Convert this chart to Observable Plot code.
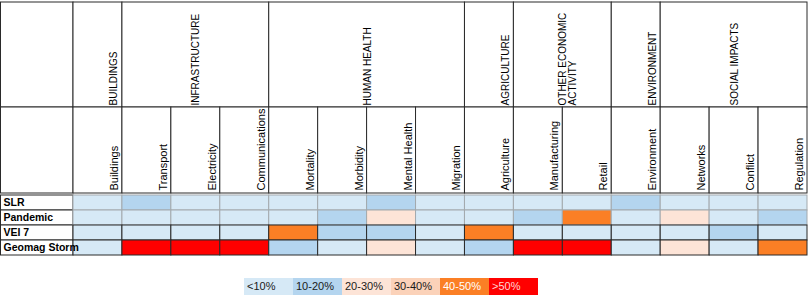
<!DOCTYPE html>
<html><head><meta charset="utf-8">
<script src="https://cdn.jsdelivr.net/npm/d3@7"></script>
<script src="https://cdn.jsdelivr.net/npm/@observablehq/plot@0.6"></script>
<style>
body{margin:0;background:#fff;font-family:"Liberation Sans",Arial,sans-serif;}
#legend{display:flex;margin-left:244px;margin-top:20px;}
#legend div{width:49px;height:17px;font-size:11px;line-height:17px;padding-left:3px;box-sizing:border-box;}
</style></head><body><div id="chart"></div><div id="legend"></div>
<script>
const groups = ["BUILDINGS","INFRASTRUCTURE","HUMAN HEALTH","AGRICULTURE","OTHER ECONOMIC\nACTIVITY","ENVIRONMENT","SOCIAL IMPACTS"];
const groupSpans = [1,3,4,1,2,1,3];
const columns = ["Buildings","Transport","Electricity","Communications","Mortality","Morbidity","Mental Health","Migration","Agriculture","Manufacturing","Retail","Environment","Networks","Conflict","Regulation"];
const scenarios = ["SLR","Pandemic","VEI 7","Geomag Storm"];
const categories = ["<10%","10-20%","20-30%","30-40%","40-50%",">50%"];
const categoryColors = ["#d6e9f6","#b4d5ef","#fde4d7","#fbd2b9","#fb7f25","#ff0000"];
const legendTextColors = ["#1a1a1a","#1a1a1a","#1a1a1a","#1a1a1a","#ffffff","#ffd6d6"];
const slr      = ["<10%","10-20%","<10%","<10%","<10%","<10%","10-20%","<10%","<10%","<10%","<10%","10-20%","<10%","<10%","<10%"];
const pandemic = ["<10%","<10%","<10%","<10%","<10%","10-20%","20-30%","<10%","<10%","10-20%","40-50%","<10%","20-30%","<10%","10-20%"];
const vei7     = ["<10%","<10%","<10%","<10%","40-50%","10-20%","10-20%","<10%","40-50%","<10%","<10%","<10%","<10%","10-20%","<10%"];
const geomag   = ["<10%",">50%",">50%",">50%","10-20%","<10%","20-30%","<10%","10-20%",">50%",">50%","<10%","20-30%","<10%","40-50%"];
const seriesValues = [slr, pandemic, vei7, geomag];

const W = 809, H = 258, mTop = 193, mLeft = 73, mRight = 2, mBottom = 2;
const frameH = H - mTop - mBottom;
const groupTop = 2, subTop = 107;

const cells = scenarios.flatMap((s, r) => seriesValues[r].map((v, i) => ({scenario: s, row: r, i, v})));
let acc = 0;
const groupData = groups.map((g, k) => { const d = {g, start: acc, end: acc + groupSpans[k]}; acc += groupSpans[k]; return d; });
const colData = columns.map((c, i) => ({c, i}));

const lineDark = "#2a2a2a";
const chart = Plot.plot({
  width: W, height: H,
  marginTop: mTop, marginLeft: mLeft, marginRight: mRight, marginBottom: mBottom,
  x: {domain: [0, columns.length], axis: null},
  y: {domain: scenarios, axis: null, padding: 0},
  color: {domain: categories, range: categoryColors},
  style: {fontFamily: "Liberation Sans, Arial, sans-serif", fontSize: "11px", background: "white", color: "#000"},
  marks: [
    Plot.rect([0], {x1: 0, x2: 0, insetLeft: -(mLeft - 0.5), insetTop: -(mTop - groupTop), insetBottom: frameH + (mTop - subTop), stroke: lineDark, fill: "white"}),
    Plot.rect([0], {x1: 0, x2: 0, insetLeft: -(mLeft - 0.5), insetTop: -(mTop - subTop), insetBottom: frameH, stroke: lineDark, fill: "white"}),
    Plot.rect(groupData, {x1: "start", x2: "end", insetTop: -(mTop - groupTop), insetBottom: frameH + (mTop - subTop), stroke: lineDark, fill: "white"}),
    Plot.rect(colData, {x1: "i", x2: d => d.i + 1, insetTop: -(mTop - subTop), insetBottom: frameH, stroke: lineDark, fill: "white"}),
    Plot.barX(scenarios, {y: d => d, x1: 0, x2: 0, insetLeft: -(mLeft - 0.5), stroke: lineDark, fill: "white"}),
    Plot.barX(cells.filter(d => d.row < 2), {x1: "i", x2: d => d.i + 1, y: "scenario", fill: "v", stroke: "#a3a9ad", strokeWidth: 1}),
    Plot.barX(cells.filter(d => d.row >= 2), {x1: "i", x2: d => d.i + 1, y: "scenario", fill: "v", stroke: lineDark, strokeWidth: 1}),
    Plot.text(groupData, {x: d => (d.end - d.start === 1 ? d.start + 0.82 : (d.start + d.end) / 2), text: "g", frameAnchor: "top", dx: -3.5, dy: -(mTop - 105), rotate: -90, textAnchor: "start", fontSize: 10, fill: "#000"}),
    Plot.text(colData, {x: d => d.i + 0.82, text: "c", frameAnchor: "top", dx: -3.5, dy: -3, rotate: -90, textAnchor: "start", fontSize: 11, fill: "#000"}),
    Plot.text(scenarios, {y: d => d, text: d => d, frameAnchor: "left", dx: -(mLeft - 3), textAnchor: "start", fontWeight: "bold", fontSize: 10.5, fill: "#000"})
  ]
});
document.getElementById("chart").append(chart);

const legend = document.getElementById("legend");
categories.forEach((c, k) => {
  const d = document.createElement("div");
  d.textContent = c;
  d.style.background = categoryColors[k];
  d.style.color = legendTextColors[k];
  legend.append(d);
});
</script></body></html>
